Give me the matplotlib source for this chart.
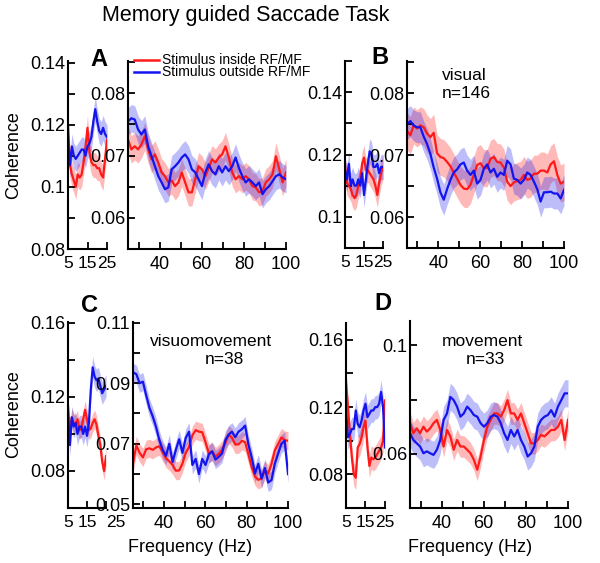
"""Coherence spectra for the memory guided saccade task (panels A-D).

Each panel has a narrow low-frequency axis (5-25 Hz) and a wide
high-frequency axis (25-100 Hz); red = stimulus inside RF/MF,
blue = stimulus outside RF/MF, shaded bands = +/- s.e.m.
"""

import matplotlib
matplotlib.use("Agg")
import matplotlib.pyplot as plt
import numpy as np
from matplotlib.lines import Line2D
from matplotlib.transforms import ScaledTranslation

plt.rcParams.update({"font.family": ["Liberation Sans", "DejaVu Sans"], "font.size": 13})

W, H = 600, 563

# ---------------------------------------------------------------------------
# Data
# ---------------------------------------------------------------------------

FREQ_LO = np.arange(5, 26)            # 1 Hz bins, 5-25 Hz
FREQ_HI = np.linspace(25, 100, 48)    # ~1.6 Hz bins, 25-100 Hz

# A: all cells
A_LO_RED = [0.120, 0.107, 0.104, 0.102, 0.100, 0.104, 0.103, 0.104, 0.108, 0.113, 0.119,
            0.111, 0.108, 0.107, 0.107, 0.106, 0.106, 0.104, 0.103, 0.109, 0.115]
A_LO_BLUE = [0.116, 0.107, 0.113, 0.110, 0.109, 0.110, 0.111, 0.112, 0.112, 0.110, 0.113,
             0.114, 0.116, 0.121, 0.125, 0.121, 0.118, 0.117, 0.119, 0.117, 0.116]
A_HI_RED = [0.0726, 0.0710, 0.0715, 0.0710, 0.0718, 0.0731, 0.0710, 0.0694, 0.0702, 0.0689,
            0.0673, 0.0667, 0.0657, 0.0660, 0.0651, 0.0657, 0.0673, 0.0657, 0.0641, 0.0641,
            0.0662, 0.0683, 0.0678, 0.0667, 0.0680, 0.0694, 0.0689, 0.0697, 0.0702, 0.0715,
            0.0697, 0.0673, 0.0662, 0.0667, 0.0662, 0.0667, 0.0662, 0.0651, 0.0649, 0.0641,
            0.0643, 0.0657, 0.0662, 0.0670, 0.0699, 0.0678, 0.0657, 0.0673]
A_HI_BLUE = [0.0755, 0.0760, 0.0758, 0.0742, 0.0734, 0.0742, 0.0715, 0.0699, 0.0683, 0.0667,
             0.0657, 0.0646, 0.0649, 0.0678, 0.0683, 0.0689, 0.0697, 0.0702, 0.0694, 0.0678,
             0.0673, 0.0662, 0.0651, 0.0673, 0.0686, 0.0675, 0.0670, 0.0683, 0.0673, 0.0683,
             0.0675, 0.0683, 0.0697, 0.0680, 0.0667, 0.0657, 0.0662, 0.0657, 0.0651, 0.0657,
             0.0638, 0.0646, 0.0651, 0.0659, 0.0667, 0.0670, 0.0665, 0.0662]

# B: visual, n=146
B_LO_RED = [0.116, 0.111, 0.110, 0.109, 0.107, 0.106, 0.107, 0.110, 0.112, 0.117, 0.119,
            0.115, 0.115, 0.114, 0.113, 0.112, 0.110, 0.107, 0.111, 0.114, 0.116]
B_LO_BLUE = [0.115, 0.112, 0.117, 0.110, 0.112, 0.110, 0.110, 0.112, 0.110, 0.114, 0.107,
             0.112, 0.117, 0.121, 0.120, 0.116, 0.116, 0.117, 0.114, 0.116, 0.116]
B_HI_RED = [0.0739, 0.0732, 0.0748, 0.0743, 0.0748, 0.0745, 0.0735, 0.0729, 0.0736, 0.0703,
            0.0697, 0.0695, 0.0689, 0.0682, 0.0672, 0.0662, 0.0652, 0.0646, 0.0645, 0.0652,
            0.0668, 0.0684, 0.0687, 0.0679, 0.0679, 0.0694, 0.0697, 0.0689, 0.0688, 0.0680,
            0.0657, 0.0650, 0.0656, 0.0658, 0.0660, 0.0668, 0.0660, 0.0662, 0.0670, 0.0670,
            0.0675, 0.0675, 0.0672, 0.0685, 0.0690, 0.0668, 0.0654, 0.0657]
B_HI_BLUE = [0.0750, 0.0755, 0.0748, 0.0745, 0.0745, 0.0730, 0.0718, 0.0702, 0.0680, 0.0662,
             0.0640, 0.0628, 0.0645, 0.0660, 0.0672, 0.0677, 0.0685, 0.0688, 0.0675, 0.0668,
             0.0675, 0.0654, 0.0660, 0.0678, 0.0685, 0.0672, 0.0678, 0.0665, 0.0672, 0.0668,
             0.0691, 0.0685, 0.0662, 0.0660, 0.0654, 0.0660, 0.0672, 0.0668, 0.0657, 0.0645,
             0.0625, 0.0640, 0.0640, 0.0641, 0.0638, 0.0638, 0.0630, 0.0644]

# C: visuomovement, n=38
C_LO_RED = [0.115, 0.101, 0.109, 0.106, 0.105, 0.108, 0.102, 0.103, 0.108, 0.113, 0.108,
            0.102, 0.103, 0.106, 0.108, 0.105, 0.099, 0.094, 0.085, 0.080, 0.088]
C_LO_BLUE = [0.109, 0.094, 0.109, 0.104, 0.106, 0.100, 0.104, 0.104, 0.100, 0.104, 0.099,
             0.106, 0.124, 0.136, 0.131, 0.129, 0.130, 0.126, 0.122, 0.124, 0.126]
C_HI_RED = [0.0634, 0.0695, 0.0670, 0.0655, 0.0682, 0.0685, 0.0680, 0.0688, 0.0692, 0.0672,
            0.0652, 0.0642, 0.0630, 0.0611, 0.0612, 0.0635, 0.0670, 0.0690, 0.0728, 0.0745,
            0.0740, 0.0738, 0.0705, 0.0668, 0.0675, 0.0658, 0.0667, 0.0680, 0.0702, 0.0730,
            0.0720, 0.0698, 0.0698, 0.0710, 0.0705, 0.0665, 0.0622, 0.0592, 0.0581, 0.0586,
            0.0613, 0.0602, 0.0634, 0.0678, 0.0699, 0.0721, 0.0712, 0.0710]
C_HI_BLUE = [0.0936, 0.0930, 0.0900, 0.0905, 0.0860, 0.0818, 0.0790, 0.0755, 0.0712, 0.0680,
             0.0660, 0.0700, 0.0640, 0.0680, 0.0715, 0.0670, 0.0720, 0.0740, 0.0630, 0.0650,
             0.0600, 0.0650, 0.0630, 0.0665, 0.0675, 0.0648, 0.0657, 0.0668, 0.0712, 0.0730,
             0.0740, 0.0722, 0.0740, 0.0748, 0.0760, 0.0698, 0.0655, 0.0602, 0.0634, 0.0585,
             0.0620, 0.0572, 0.0580, 0.0634, 0.0667, 0.0700, 0.0710, 0.0600]

# D: movement, n=33
D_LO_RED = [0.135, 0.120, 0.104, 0.090, 0.080, 0.078, 0.096, 0.098, 0.102, 0.108, 0.112,
            0.096, 0.085, 0.090, 0.089, 0.090, 0.092, 0.094, 0.096, 0.100, 0.124]
D_LO_BLUE = [0.118, 0.102, 0.104, 0.107, 0.107, 0.118, 0.110, 0.108, 0.112, 0.118, 0.122,
             0.114, 0.116, 0.118, 0.118, 0.120, 0.120, 0.122, 0.129, 0.120, 0.096]
D_HI_RED = [0.0713, 0.0676, 0.0694, 0.0676, 0.0700, 0.0682, 0.0694, 0.0713, 0.0725, 0.0688,
            0.0627, 0.0688, 0.0664, 0.0615, 0.0651, 0.0627, 0.0627, 0.0615, 0.0602, 0.0578,
            0.0541, 0.0590, 0.0651, 0.0700, 0.0725, 0.0749, 0.0749, 0.0737, 0.0761, 0.0798,
            0.0749, 0.0749, 0.0725, 0.0749, 0.0713, 0.0676, 0.0639, 0.0639, 0.0651, 0.0670,
            0.0664, 0.0676, 0.0688, 0.0688, 0.0700, 0.0725, 0.0651, 0.0725]
D_HI_BLUE = [0.0676, 0.0651, 0.0639, 0.0627, 0.0602, 0.0609, 0.0602, 0.0596, 0.0615, 0.0651,
             0.0725, 0.0749, 0.0810, 0.0798, 0.0774, 0.0737, 0.0749, 0.0774, 0.0761, 0.0743,
             0.0737, 0.0713, 0.0700, 0.0713, 0.0737, 0.0743, 0.0737, 0.0713, 0.0676, 0.0651,
             0.0688, 0.0664, 0.0688, 0.0651, 0.0627, 0.0590, 0.0602, 0.0627, 0.0700, 0.0725,
             0.0737, 0.0743, 0.0761, 0.0737, 0.0774, 0.0798, 0.0823, 0.0823]

# half-width of the shaded error bands (red, blue)
SEM_A_LO = (0.004, 0.004)
SEM_A_HI = (0.0022, 0.0022)
SEM_B_LO = (0.004, 0.004)
SEM_B_HI = (0.003, 0.0025)
SEM_C_LO = (0.005, 0.006)
SEM_C_HI = (0.003, 0.003)
SEM_D_LO = (0.007, 0.007)
SEM_D_HI = (0.004, 0.005)

RED = "#ff1a1a"
BLUE = "#1414ee"


# ---------------------------------------------------------------------------
# Helpers
# ---------------------------------------------------------------------------

def _axes(fig, left, top, right, bottom):
    """Add axes from pixel edges of the original picture."""
    return fig.add_axes([left / W, 1 - bottom / H, (right - left) / W, (bottom - top) / H])


def _style(ax, xlim, xticks, xlabels, ylim, yticks, ylabels):
    for side in ("top", "right"):
        ax.spines[side].set_visible(False)
    for side in ("left", "bottom"):
        ax.spines[side].set_linewidth(1.5)
    ax.set_xlim(xlim)
    ax.set_ylim(ylim)
    ax.set_xticks(xticks)
    ax.set_xticklabels([f"{t:g}" if t in xlabels else "" for t in xticks])
    ax.set_yticks(yticks)
    ax.set_yticklabels([f"{round(t, 3):g}" if any(abs(t - l) < 1e-6 for l in ylabels) else ""
                        for t in yticks])
    ax.tick_params(direction="in", length=5, width=1.3, pad=2, labelsize=13)
    ax.tick_params(axis="x", pad=5)
    ax.patch.set_alpha(0)


def _draw(ax, freq, red, blue, sem):
    red, blue = np.asarray(red), np.asarray(blue)
    ax.fill_between(freq, red - sem[0], red + sem[0], color=RED, alpha=0.3, lw=0)
    ax.fill_between(freq, blue - sem[1], blue + sem[1], color=BLUE, alpha=0.28, lw=0)
    ax.plot(freq, red, color=RED, lw=1.6)
    ax.plot(freq, blue, color=BLUE, lw=1.6)


def _panel(fig, lo_box, hi_box, data, lo_y, hi_y):
    lo_red, lo_blue, lo_sem, hi_red, hi_blue, hi_sem = data
    ax_lo = _axes(fig, *lo_box)
    _draw(ax_lo, FREQ_LO, lo_red, lo_blue, lo_sem)
    _style(ax_lo, (5, 25), [5, 15, 25], [5, 15, 25], *lo_y)
    ax_lo.tick_params(axis="x", labelsize=12.5)

    ax_hi = _axes(fig, *hi_box)
    _draw(ax_hi, FREQ_HI, hi_red, hi_blue, hi_sem)
    _style(ax_hi, (25, 100), np.arange(30, 101, 10), [40, 60, 80, 100], *hi_y)
    return ax_lo, ax_hi


def _text(fig, x, y, s, **kw):
    fig.text(x / W, 1 - y / H, s, **kw)


# ---------------------------------------------------------------------------
# Figure
# ---------------------------------------------------------------------------

fig = plt.figure(figsize=(W / 100, H / 100), dpi=100)

y_hi_ab = ((0.055, 0.0852), np.arange(0.055, 0.0851, 0.005), [0.06, 0.07, 0.08])

_panel(
    fig, (68, 61, 107, 249), (128, 61, 286, 249),
    (A_LO_RED, A_LO_BLUE, SEM_A_LO, A_HI_RED, A_HI_BLUE, SEM_A_HI),
    ((0.08, 0.1405), np.arange(0.08, 0.1401, 0.01), [0.08, 0.10, 0.12, 0.14]),
    y_hi_ab,
)
_panel(
    fig, (345, 61, 383, 248), (407, 61, 564, 248),
    (B_LO_RED, B_LO_BLUE, SEM_B_LO, B_HI_RED, B_HI_BLUE, SEM_B_HI),
    ((0.09, 0.15), np.arange(0.09, 0.1501, 0.01), [0.10, 0.12, 0.14]),
    y_hi_ab,
)
ax_c_lo, _ = _panel(
    fig, (68, 322, 106, 508), (133, 322, 288, 508),
    (C_LO_RED, C_LO_BLUE, SEM_C_LO, C_HI_RED, C_HI_BLUE, SEM_C_HI),
    ((0.06, 0.1605), np.arange(0.06, 0.1601, 0.02), [0.08, 0.12, 0.16]),
    ((0.0488, 0.1102), np.arange(0.05, 0.1101, 0.01), [0.05, 0.07, 0.09, 0.11]),
)
# in panel C the "25" label sits to the right of its tick
lbl_25 = ax_c_lo.get_xticklabels()[2]
lbl_25.set_transform(lbl_25.get_transform() + ScaledTranslation(7 / 72, 0, fig.dpi_scale_trans))

_panel(
    fig, (346, 323, 385, 508), (410, 321, 568, 508),
    (D_LO_RED, D_LO_BLUE, SEM_D_LO, D_HI_RED, D_HI_BLUE, SEM_D_HI),
    ((0.06, 0.17), np.arange(0.06, 0.1601, 0.02), [0.08, 0.12, 0.16]),
    ((0.04, 0.109), np.arange(0.04, 0.1001, 0.02), [0.06, 0.10]),
)

# labels
_text(fig, 246, 15, "Memory guided Saccade Task", fontsize=15.5, ha="center", va="center")
_text(fig, 14, 155, "Coherence", fontsize=13, rotation=90, ha="center", va="center")
_text(fig, 14, 414, "Coherence", fontsize=13, rotation=90, ha="center", va="center")
_text(fig, 190, 548, "Frequency (Hz)", fontsize=13, ha="center", va="center")
_text(fig, 470, 548, "Frequency (Hz)", fontsize=13, ha="center", va="center")

for letter, x, y in [("A", 99, 60), ("B", 380, 57), ("C", 89, 305), ("D", 383, 304)]:
    _text(fig, x, y, letter, fontsize=17, fontweight="bold", ha="center", va="center")

_text(fig, 442, 75, "visual", fontsize=12.5, ha="left", va="center")
_text(fig, 442, 93, "n=146", fontsize=12.5, ha="left", va="center")
_text(fig, 211, 342, "visuomovement", fontsize=12.5, ha="center", va="center")
_text(fig, 224, 360, "n=38", fontsize=12.5, ha="center", va="center")
_text(fig, 482, 341, "movement", fontsize=12.5, ha="center", va="center")
_text(fig, 485, 360, "n=33", fontsize=12.5, ha="center", va="center")

# legend drawn by hand to sit over the top of panel A
for label, color, y in [("Stimulus inside RF/MF", RED, 59.5),
                        ("Stimulus outside RF/MF", BLUE, 72)]:
    fig.add_artist(Line2D([134 / W, 159 / W], [1 - y / H] * 2, color=color, lw=1.8,
                          transform=fig.transFigure))
    _text(fig, 162, y, label, fontsize=10, ha="left", va="center")

fig.savefig("out.png", dpi=100)
